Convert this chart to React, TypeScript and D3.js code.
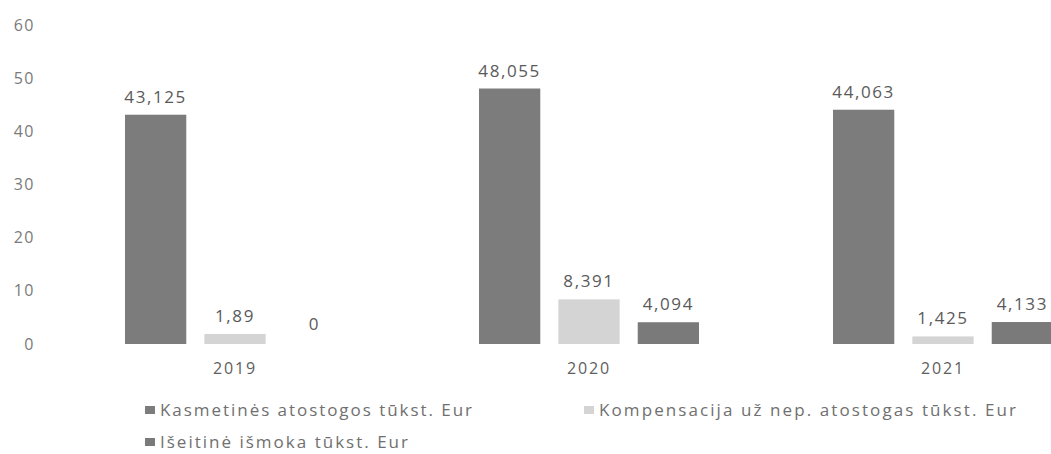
import React from "react";
import * as d3 from "d3";

const years = ["2019", "2020", "2021"];
const seriesNames = [
  "Kasmetinės atostogos tūkst. Eur",
  "Kompensacija už nep. atostogas tūkst. Eur",
  "Išeitinė išmoka tūkst. Eur",
];
const kasmetines = [43.125, 48.055, 44.063];
const kompensacija = [1.89, 8.391, 1.425];
const iseitine = [0, 4.094, 4.133];
const valueLabels = [
  ["43,125", "48,055", "44,063"],
  ["1,89", "8,391", "1,425"],
  ["0", "4,094", "4,133"],
];
const yTicks = [0, 10, 20, 30, 40, 50, 60];
const colors = ["#7c7c7c", "#d4d4d4", "#7a7a7a"];

const W = 1051;
const H = 454;
const FONT = "'Open Sans', sans-serif";
const TEXT = "#707070";

export default function App() {
  const seriesValues = [kasmetines, kompensacija, iseitine];
  const x0 = d3.scaleBand<string>().domain(years).range([58, 1120]).padding(0);
  const inner = 220;
  const x1 = d3
    .scaleBand<number>()
    .domain([0, 1, 2])
    .range([x0.bandwidth() / 2 - inner / 2, x0.bandwidth() / 2 + inner / 2])
    .paddingInner(0.228)
    .paddingOuter(0);
  const y = d3.scaleLinear().domain([0, 60]).range([344, 25]);

  const legend = [
    { s: 0, x: 145, y: 410, len: 312 },
    { s: 1, x: 584, y: 410, len: 417 },
    { s: 2, x: 145, y: 442, len: 248 },
  ];

  return (
    <svg
      width={W}
      height={H}
      style={{ position: "absolute", left: 0, top: 0, background: "#fff" }}
      fontFamily={FONT}
    >
      <rect width={W} height={H} fill="#fff" />
      {yTicks.map((t) => (
        <text
          key={t}
          x={35}
          y={y(t)}
          dy="0.35em"
          textAnchor="end"
          fontSize={16}
          fill="#7a7a7a"
          letterSpacing={1.5}
        >
          {t}
        </text>
      ))}
      {years.map((yr, i) => (
        <g key={yr} transform={`translate(${x0(yr)},0)`}>
          {seriesValues.map((vals, s) => {
            const v = vals[i];
            const bx = x1(s)!;
            const bw = x1.bandwidth();
            return (
              <g key={s}>
                {v > 0 && (
                  <rect
                    x={bx}
                    y={y(v)}
                    width={bw}
                    height={y(0) - y(v)}
                    fill={colors[s]}
                  />
                )}
                <text
                  x={bx + bw / 2}
                  y={y(v) - (v > 0 ? 12 : 14)}
                  textAnchor="middle"
                  fontSize={17}
                  fill="#5a5a5a"
                  letterSpacing={1.6}
                >
                  {valueLabels[s][i]}
                </text>
              </g>
            );
          })}
          <text
            x={x0.bandwidth() / 2}
            y={374}
            textAnchor="middle"
            fontSize={16}
            fill="#606060"
            letterSpacing={1.8}
          >
            {yr}
          </text>
        </g>
      ))}
      {legend.map(({ s, x, y: ly, len }) => (
        <g key={s}>
          <rect x={x} y={ly - 4} width={10} height={8} fill={colors[s]} />
          <text
            x={x + 15}
            y={ly}
            dy="0.35em"
            fontSize={17}
            fill={TEXT}
            textLength={len}
            lengthAdjust="spacing"
          >
            {seriesNames[s]}
          </text>
        </g>
      ))}
    </svg>
  );
}
